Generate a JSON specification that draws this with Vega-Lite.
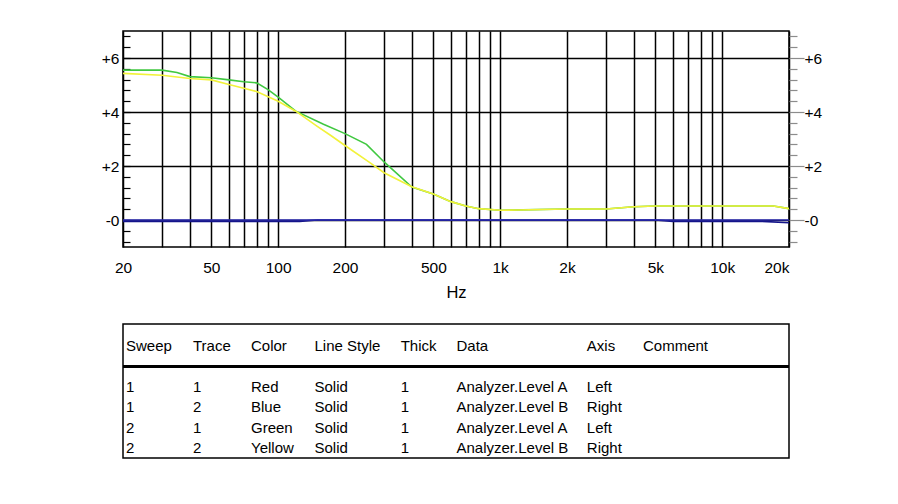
{
  "$schema": "https://vega.github.io/schema/vega-lite/v6.json",
  "background": "white",
  "padding": {"left": 100, "top": 28, "right": 0, "bottom": 0},
  "spacing": 21,
  "config": {
    "font": "Liberation Sans",
    "axis": {"labelFont": "Liberation Sans", "titleFont": "Liberation Sans", "labelFontSize": 15.5, "titleFontSize": 16.5, "labelColor": "black", "titleColor": "black", "titleFontWeight": "normal"}
  },
  "vconcat": [
    {
      "width": 666,
      "height": 216,
      "view": {"stroke": "black", "strokeWidth": 1.5},
      "data": {"values": [
        {"freq": 20, "level": -0.05, "series": "S1T1", "axis": "Left"},
        {"freq": 125, "level": -0.05, "series": "S1T1", "axis": "Left"},
        {"freq": 150, "level": 0, "series": "S1T1", "axis": "Left"},
        {"freq": 5000, "level": 0, "series": "S1T1", "axis": "Left"},
        {"freq": 6000, "level": -0.05, "series": "S1T1", "axis": "Left"},
        {"freq": 15000, "level": -0.05, "series": "S1T1", "axis": "Left"},
        {"freq": 20000, "level": -0.1, "series": "S1T1", "axis": "Left"},
        {"freq": 20, "level": 5.55, "series": "S2T1", "axis": "Left"},
        {"freq": 30, "level": 5.55, "series": "S2T1", "axis": "Left"},
        {"freq": 35, "level": 5.46, "series": "S2T1", "axis": "Left"},
        {"freq": 40, "level": 5.31, "series": "S2T1", "axis": "Left"},
        {"freq": 50, "level": 5.27, "series": "S2T1", "axis": "Left"},
        {"freq": 60, "level": 5.19, "series": "S2T1", "axis": "Left"},
        {"freq": 70, "level": 5.12, "series": "S2T1", "axis": "Left"},
        {"freq": 80, "level": 5.08, "series": "S2T1", "axis": "Left"},
        {"freq": 90, "level": 4.83, "series": "S2T1", "axis": "Left"},
        {"freq": 100, "level": 4.55, "series": "S2T1", "axis": "Left"},
        {"freq": 120, "level": 4.03, "series": "S2T1", "axis": "Left"},
        {"freq": 160, "level": 3.55, "series": "S2T1", "axis": "Left"},
        {"freq": 200, "level": 3.2, "series": "S2T1", "axis": "Left"},
        {"freq": 250, "level": 2.8, "series": "S2T1", "axis": "Left"},
        {"freq": 300, "level": 2.15, "series": "S2T1", "axis": "Left"},
        {"freq": 400, "level": 1.22, "series": "S2T1", "axis": "Left"},
        {"freq": 500, "level": 0.96, "series": "S2T1", "axis": "Left"},
        {"freq": 600, "level": 0.68, "series": "S2T1", "axis": "Left"},
        {"freq": 700, "level": 0.52, "series": "S2T1", "axis": "Left"},
        {"freq": 800, "level": 0.42, "series": "S2T1", "axis": "Left"},
        {"freq": 1000, "level": 0.36, "series": "S2T1", "axis": "Left"},
        {"freq": 2000, "level": 0.41, "series": "S2T1", "axis": "Left"},
        {"freq": 3000, "level": 0.41, "series": "S2T1", "axis": "Left"},
        {"freq": 4000, "level": 0.49, "series": "S2T1", "axis": "Left"},
        {"freq": 5000, "level": 0.52, "series": "S2T1", "axis": "Left"},
        {"freq": 10000, "level": 0.52, "series": "S2T1", "axis": "Left"},
        {"freq": 17000, "level": 0.52, "series": "S2T1", "axis": "Left"},
        {"freq": 20000, "level": 0.42, "series": "S2T1", "axis": "Left"},
        {"freq": 20, "level": 0, "series": "S1T2", "axis": "Right"},
        {"freq": 1000, "level": 0, "series": "S1T2", "axis": "Right"},
        {"freq": 20000, "level": 0, "series": "S1T2", "axis": "Right"},
        {"freq": 20, "level": 5.43, "series": "S2T2", "axis": "Right"},
        {"freq": 30, "level": 5.36, "series": "S2T2", "axis": "Right"},
        {"freq": 40, "level": 5.24, "series": "S2T2", "axis": "Right"},
        {"freq": 50, "level": 5.19, "series": "S2T2", "axis": "Right"},
        {"freq": 60, "level": 5.02, "series": "S2T2", "axis": "Right"},
        {"freq": 70, "level": 4.88, "series": "S2T2", "axis": "Right"},
        {"freq": 80, "level": 4.76, "series": "S2T2", "axis": "Right"},
        {"freq": 100, "level": 4.4, "series": "S2T2", "axis": "Right"},
        {"freq": 120, "level": 4.03, "series": "S2T2", "axis": "Right"},
        {"freq": 150, "level": 3.47, "series": "S2T2", "axis": "Right"},
        {"freq": 172, "level": 3.14, "series": "S2T2", "axis": "Right"},
        {"freq": 200, "level": 2.76, "series": "S2T2", "axis": "Right"},
        {"freq": 255, "level": 2.16, "series": "S2T2", "axis": "Right"},
        {"freq": 300, "level": 1.75, "series": "S2T2", "axis": "Right"},
        {"freq": 400, "level": 1.23, "series": "S2T2", "axis": "Right"},
        {"freq": 500, "level": 0.96, "series": "S2T2", "axis": "Right"},
        {"freq": 600, "level": 0.68, "series": "S2T2", "axis": "Right"},
        {"freq": 700, "level": 0.52, "series": "S2T2", "axis": "Right"},
        {"freq": 800, "level": 0.42, "series": "S2T2", "axis": "Right"},
        {"freq": 1000, "level": 0.36, "series": "S2T2", "axis": "Right"},
        {"freq": 1200, "level": 0.37, "series": "S2T2", "axis": "Right"},
        {"freq": 2000, "level": 0.41, "series": "S2T2", "axis": "Right"},
        {"freq": 3000, "level": 0.41, "series": "S2T2", "axis": "Right"},
        {"freq": 4000, "level": 0.49, "series": "S2T2", "axis": "Right"},
        {"freq": 5000, "level": 0.52, "series": "S2T2", "axis": "Right"},
        {"freq": 10000, "level": 0.52, "series": "S2T2", "axis": "Right"},
        {"freq": 17000, "level": 0.52, "series": "S2T2", "axis": "Right"},
        {"freq": 20000, "level": 0.42, "series": "S2T2", "axis": "Right"}
      ]},
      "layer": [
        {
          "transform": [{"filter": "datum.axis == 'Left'"}],
          "mark": {"type": "line", "strokeWidth": 1.6},
          "encoding": {
            "x": {"field": "freq", "type": "quantitative",
              "scale": {"type": "log", "domain": [20, 20000], "nice": false},
              "axis": {
                "values": [20, 30, 40, 50, 60, 70, 80, 90, 100, 200, 300, 400, 500, 600, 700, 800, 900, 1000, 2000, 3000, 4000, 5000, 6000, 7000, 8000, 9000, 10000, 20000],
                "grid": true, "gridColor": "black", "gridWidth": 1.5, "gridOpacity": 1,
                "ticks": false, "domain": false, "labelPadding": 13, "labelOverlap": false, "labelBound": false, "labelFlush": false,
                "labelExpr": "indexof([20,50,100,200,500,1000,2000,5000,10000,20000], datum.value) >= 0 ? (datum.value >= 1000 ? (datum.value/1000) + 'k' : '' + datum.value) : ''",
                "labelAlign": {"condition": {"test": "datum.value >= 20000", "value": "right"}, "value": "center"},
                "title": "Hz", "titlePadding": 9
              }},
            "y": {"field": "level", "type": "quantitative",
              "scale": {"domain": [-1, 7], "nice": false, "zero": false},
              "axis": {
                "orient": "left",
                "values": [-0.8, -0.4, 0, 0.4, 0.8, 1.2, 1.6, 2, 2.4, 2.8, 3.2, 3.6, 4, 4.4, 4.8, 5.2, 5.6, 6, 6.4, 6.8],
                "grid": true, "gridColor": "black", "gridWidth": 1.5,
                "gridOpacity": {"condition": {"test": "abs(datum.value - round(datum.value/2)*2) < 0.01", "value": 1}, "value": 0},
                "tickSize": -7, "tickColor": "black", "tickWidth": 1.2, "domain": false,
                "labelExpr": "abs(datum.value - round(datum.value/2)*2) < 0.01 ? (datum.value > 0.01 ? '+' + round(datum.value) : '-0') : ''",
                "labelPadding": 11, "labelOverlap": false, "title": null
              }},
            "color": {"field": "series", "type": "nominal",
              "scale": {"domain": ["S1T1", "S1T2", "S2T1", "S2T2"], "range": ["#14148a", "#2a2ab0", "#40c840", "#f2f23a"]},
              "legend": null}
          }
        },
        {
          "transform": [{"filter": "datum.axis == 'Right'"}],
          "mark": {"type": "line", "strokeWidth": 1.6},
          "encoding": {
            "x": {"field": "freq", "type": "quantitative", "scale": {"type": "log", "domain": [20, 20000], "nice": false}},
            "y": {"field": "level", "type": "quantitative",
              "scale": {"domain": [-1, 7], "nice": false, "zero": false},
              "axis": {
                "orient": "right",
                "values": [-0.8, -0.4, 0, 0.4, 0.8, 1.2, 1.6, 2, 2.4, 2.8, 3.2, 3.6, 4, 4.4, 4.8, 5.2, 5.6, 6, 6.4, 6.8],
                "grid": false, "domain": false, "tickColor": "#8c8c8c", "tickWidth": 1.2,
                "tickSize": {"condition": {"test": "abs(datum.value - round(datum.value/2)*2) < 0.01", "value": 15}, "value": 8},
                "labelExpr": "abs(datum.value - round(datum.value/2)*2) < 0.01 ? (datum.value > 0.01 ? '+' + round(datum.value) : '-0') : ''",
                "labelPadding": 0, "labelOverlap": false, "title": null
              }},
            "color": {"field": "series", "type": "nominal", "legend": null}
          }
        }
      ],
      "resolve": {"scale": {"y": "independent"}}
    },
    {
      "width": 666,
      "height": 134,
      "view": {"stroke": "black", "strokeWidth": 1.5},
      "data": {"values": [
        {"row": 0, "col": 0, "text": "Sweep"},
        {"row": 0, "col": 1, "text": "Trace"},
        {"row": 0, "col": 2, "text": "Color"},
        {"row": 0, "col": 3, "text": "Line Style"},
        {"row": 0, "col": 4, "text": "Thick"},
        {"row": 0, "col": 5, "text": "Data"},
        {"row": 0, "col": 6, "text": "Axis"},
        {"row": 0, "col": 7, "text": "Comment"},
        {"row": 1, "col": 0, "text": "1"},
        {"row": 1, "col": 1, "text": "1"},
        {"row": 1, "col": 2, "text": "Red"},
        {"row": 1, "col": 3, "text": "Solid"},
        {"row": 1, "col": 4, "text": "1"},
        {"row": 1, "col": 5, "text": "Analyzer.Level A"},
        {"row": 1, "col": 6, "text": "Left"},
        {"row": 2, "col": 0, "text": "1"},
        {"row": 2, "col": 1, "text": "2"},
        {"row": 2, "col": 2, "text": "Blue"},
        {"row": 2, "col": 3, "text": "Solid"},
        {"row": 2, "col": 4, "text": "1"},
        {"row": 2, "col": 5, "text": "Analyzer.Level B"},
        {"row": 2, "col": 6, "text": "Right"},
        {"row": 3, "col": 0, "text": "2"},
        {"row": 3, "col": 1, "text": "1"},
        {"row": 3, "col": 2, "text": "Green"},
        {"row": 3, "col": 3, "text": "Solid"},
        {"row": 3, "col": 4, "text": "1"},
        {"row": 3, "col": 5, "text": "Analyzer.Level A"},
        {"row": 3, "col": 6, "text": "Left"},
        {"row": 4, "col": 0, "text": "2"},
        {"row": 4, "col": 1, "text": "2"},
        {"row": 4, "col": 2, "text": "Yellow"},
        {"row": 4, "col": 3, "text": "Solid"},
        {"row": 4, "col": 4, "text": "1"},
        {"row": 4, "col": 5, "text": "Analyzer.Level B"},
        {"row": 4, "col": 6, "text": "Right"}
      ]},
      "layer": [
        {
          "mark": {"type": "rule", "color": "black", "strokeWidth": 1.5},
          "encoding": {
            "y": {"datum": 0.5, "type": "quantitative",
              "scale": {"domain": [0, 1, 2, 3, 4], "range": [22, 63, 83, 104, 124]}, "axis": null}
          }
        },
        {
          "mark": {"type": "text", "align": "left", "baseline": "middle", "fontSize": 15, "font": "Liberation Sans", "color": "black"},
          "encoding": {
            "x": {"field": "col", "type": "quantitative",
              "scale": {"domain": [0, 1, 2, 3, 4, 5, 6, 7], "range": [3, 70, 128, 191.5, 277.7, 333.5, 463.8, 520]}, "axis": null},
            "y": {"field": "row", "type": "quantitative",
              "scale": {"domain": [0, 1, 2, 3, 4], "range": [22, 63, 83, 104, 124]}, "axis": null},
            "text": {"field": "text"}
          }
        }
      ]
    }
  ]
}
